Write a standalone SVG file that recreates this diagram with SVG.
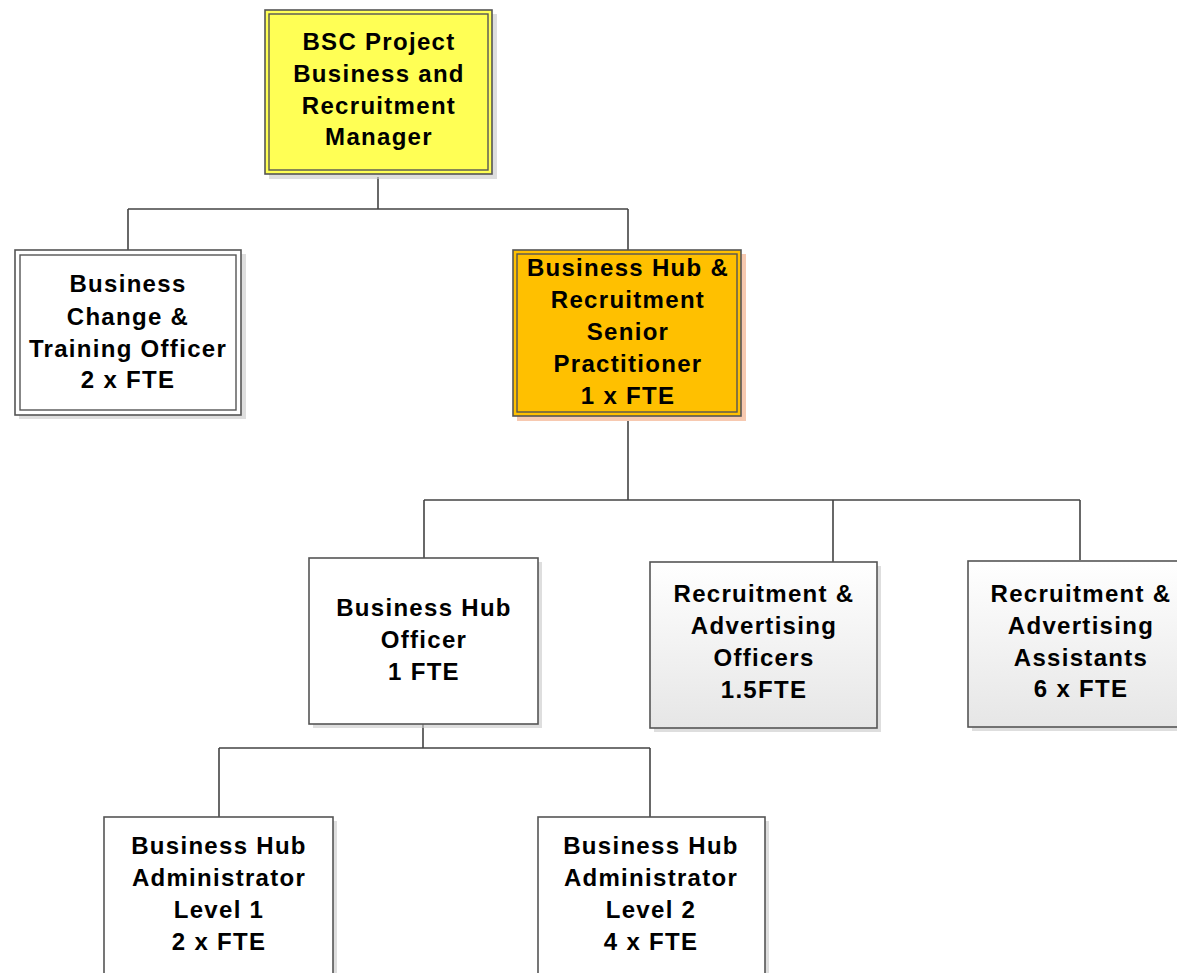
<svg xmlns="http://www.w3.org/2000/svg" width="1177" height="973" viewBox="0 0 1177 973">
<defs>
<linearGradient id="gry" x1="0" y1="0" x2="0" y2="1"><stop offset="0" stop-color="#ffffff"/><stop offset="1" stop-color="#e6e6e6"/></linearGradient>
</defs>
<style>
.b{stroke:#555;stroke-width:1.6;}
.in{fill:none;stroke:#555;stroke-width:1.4;}
.sh{fill:#c8c8c8;opacity:0.6;}
.t{font-family:"Liberation Sans",Arial,sans-serif;font-weight:bold;font-size:24px;letter-spacing:1.3px;text-anchor:middle;fill:#000;}
.c{fill:none;stroke:#444;stroke-width:1.6;}
</style>
<rect width="1177" height="973" fill="#fff"/>
<g id="connectors">
<path class="c" d="M378 177V209M128 209H628M128 209V250M628 209V250"/>
<path class="c" d="M628 416V500M424 500H1080M424 500V558M833 500V562M1080 500V560"/>
<path class="c" d="M423 724V748M219 748H650M219 748V817M650 748V817"/>
</g>
<g id="n1">
<rect class="sh" x="269" y="14" width="228" height="165"/>
<rect class="b" x="265" y="10" width="227" height="164" fill="#ffff55"/>
<rect class="in" x="269" y="14" width="219" height="156"/>
<text class="t" x="379" y="50">BSC Project</text>
<text class="t" x="379" y="82">Business and</text>
<text class="t" x="379" y="114">Recruitment</text>
<text class="t" x="379" y="145">Manager</text>
</g>
<g id="n2">
<rect class="sh" x="19" y="254" width="227" height="165"/>
<rect class="b" x="15" y="250" width="226" height="165" fill="#fff"/>
<rect class="in" x="20" y="255" width="216" height="155"/>
<text class="t" x="128" y="292">Business</text>
<text class="t" x="128" y="325">Change &amp;</text>
<text class="t" x="128" y="357">Training Officer</text>
<text class="t" x="128" y="388">2 x FTE</text>
</g>
<g id="n3">
<rect x="517" y="254" width="229" height="167" fill="#f7c9b0"/>
<rect class="b" x="513" y="250" width="228" height="166" fill="#ffc000"/>
<rect class="in" x="517" y="254" width="220" height="158"/>
<text class="t" x="628" y="276">Business Hub &amp;</text>
<text class="t" x="628" y="308">Recruitment</text>
<text class="t" x="628" y="340">Senior</text>
<text class="t" x="628" y="372">Practitioner</text>
<text class="t" x="628" y="404">1 x FTE</text>
</g>
<g id="n4">
<rect class="sh" x="313" y="562" width="229" height="166"/>
<rect class="b" x="309" y="558" width="229" height="166" fill="#fff"/>
<text class="t" x="424" y="616">Business Hub</text>
<text class="t" x="424" y="648">Officer</text>
<text class="t" x="424" y="680">1 FTE</text>
</g>
<g id="n5">
<rect class="sh" x="654" y="566" width="227" height="166"/>
<rect class="b" x="650" y="562" width="227" height="166" fill="url(#gry)"/>
<text class="t" x="764" y="602">Recruitment &amp;</text>
<text class="t" x="764" y="634">Advertising</text>
<text class="t" x="764" y="666">Officers</text>
<text class="t" x="764" y="698">1.5FTE</text>
</g>
<g id="n6">
<rect class="sh" x="972" y="565" width="228" height="166"/>
<rect class="b" x="968" y="561" width="228" height="166" fill="url(#gry)"/>
<text class="t" x="1081" y="602">Recruitment &amp;</text>
<text class="t" x="1081" y="634">Advertising</text>
<text class="t" x="1081" y="666">Assistants</text>
<text class="t" x="1081" y="697">6 x FTE</text>
</g>
<g id="n7">
<rect class="sh" x="108" y="821" width="229" height="166"/>
<rect class="b" x="104" y="817" width="229" height="166" fill="#fff"/>
<text class="t" x="219" y="854">Business Hub</text>
<text class="t" x="219" y="886">Administrator</text>
<text class="t" x="219" y="918">Level 1</text>
<text class="t" x="219" y="950">2 x FTE</text>
</g>
<g id="n8">
<rect class="sh" x="542" y="821" width="227" height="166"/>
<rect class="b" x="538" y="817" width="227" height="166" fill="#fff"/>
<text class="t" x="651" y="854">Business Hub</text>
<text class="t" x="651" y="886">Administrator</text>
<text class="t" x="651" y="918">Level 2</text>
<text class="t" x="651" y="950">4 x FTE</text>
</g>
</svg>
